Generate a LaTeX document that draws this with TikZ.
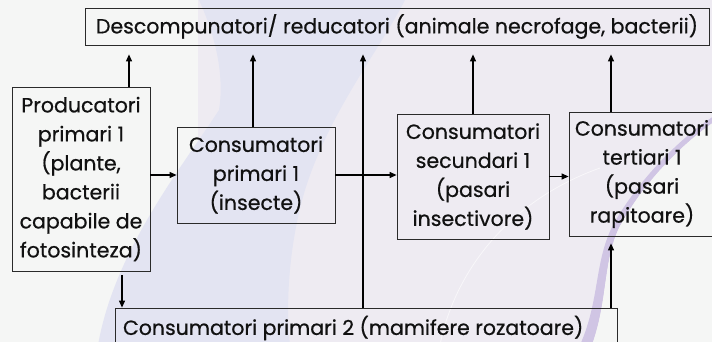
\documentclass[tikz,border=0pt]{standalone}
\usepackage{fontspec}
\setmainfont{Poppins}[FakeBold=0.6]
\usetikzlibrary{arrows.meta}
\definecolor{bgwhite}{HTML}{F5F6F5}
\definecolor{bgpale}{HTML}{EEEBF2}
\definecolor{bglav}{HTML}{E3E4F2}
\definecolor{bgstroke}{HTML}{D0C5E4}
\definecolor{boxline}{HTML}{2A2A2A}
\definecolor{txt}{HTML}{111111}

\begin{document}
\begin{tikzpicture}[x=1pt,y=-1pt,
  box/.style={draw=boxline,line width=0.8pt,align=center,inner sep=0pt,
    text=txt,font=\fontsize{20.5}{29}\selectfont},
  arr/.style={-{Triangle[length=7pt,width=6pt]},line width=1.1pt,draw=black}]

\useasboundingbox (0,0) rectangle (712,342);
\clip (0,0) rectangle (712,342);
\fill[bgwhite] (0,0) rectangle (712,342);
\fill[bgpale] (198,-2) rectangle (714,344);
\fill[bglav] (198,-2) .. controls (218,40) and (224,80) .. (219,110)
  .. controls (180,170) and (115,250) .. (98,345)
  -- (290,345) .. controls (285,300) and (290,240) .. (305,190)
  .. controls (330,110) and (380,50) .. (406,-2) -- cycle;
\fill[bgstroke] (714,116) .. controls (680,138) and (638,180) .. (613,225)
  .. controls (594,262) and (600,300) .. (580,345) -- (592,345)
  .. controls (608,300) and (603,262) .. (619,228)
  .. controls (642,184) and (682,144) .. (714,122) -- cycle;
\fill[bgwhite] (714,122) .. controls (682,144) and (642,184) .. (619,228)
  .. controls (603,262) and (608,300) .. (592,345) -- (714,345) -- cycle;
\draw[white,opacity=0.6,line width=0.8pt] (440,345) .. controls (455,270) and (510,200) .. (600,168);

\node[box,minimum width=624pt,minimum height=37pt] (desc) at (397,26.5)
  {Descompunatori/ reducatori (animale necrofage, bacterii)};
\node[box,minimum width=138pt,minimum height=184pt] (prod) at (81,179)
  {Producatori\\primari 1\\(plante,\\bacterii\\capabile de\\fotosinteza)};
\node[box,minimum width=158pt,minimum height=96pt] (cons1) at (256,175)
  {Consumatori\\primari 1\\(insecte)};
\node[box,minimum width=152pt,minimum height=125pt] (cons2) at (473,176.5)
  {Consumatori\\secundari 1\\(pasari\\insectivore)};
\node[box,minimum width=146pt,minimum height=124pt] (cons3) at (642,174)
  {Consumatori\\tertiari 1\\(pasari\\rapitoare)};
\node[box,align=flush left,text width=486pt,inner xsep=8pt,minimum height=40pt] (rod) at (366,328)
  {Consumatori primari 2 (mamifere rozatoare)};

\draw[arr,shorten >=9pt] ([xshift=48pt]prod.north) -- ([xshift=48pt]prod.north |- desc.south);
\draw[arr,shorten >=9pt] ([xshift=-3pt]cons1.north) -- ([xshift=-3pt]cons1.north |- desc.south);
\draw[arr,shorten >=9pt] ([xshift=-3pt]rod.north) -- ([xshift=-3pt]rod.north |- desc.south);
\draw[arr,shorten >=9pt] (cons2.north) -- (cons2.north |- desc.south);
\draw[arr,shorten >=9pt] ([xshift=-31pt]cons3.north) -- ([xshift=-31pt]cons3.north |- desc.south);
\draw[arr] (prod.east |- cons1.west) -- (cons1.west);
\draw[arr] (cons1.east) -- (cons2.west |- cons1.east);
\draw[arr] (cons2.east) -- (cons3.west |- cons2.east);
\draw[arr,shorten <=4pt] ([xshift=41pt]prod.south) -- ([xshift=41pt]prod.south |- rod.north);
\draw[arr,shorten >=7pt] ([xshift=245pt]rod.north) -- ([xshift=245pt]rod.north |- cons3.south);
\end{tikzpicture}
\end{document}
